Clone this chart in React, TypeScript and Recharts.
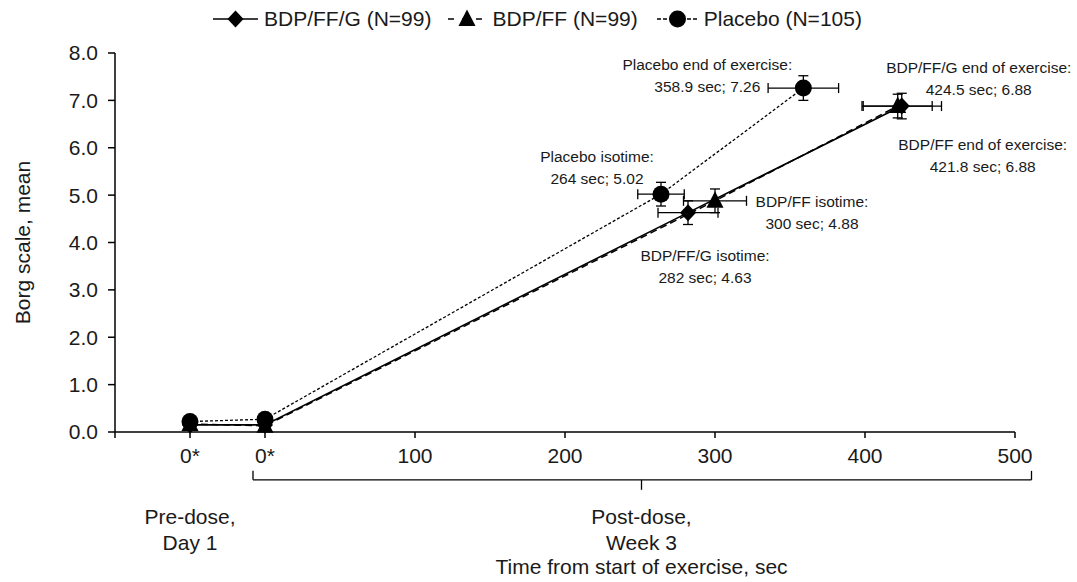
import React from 'react';
import { ComposedChart, Line, Scatter, XAxis, YAxis, ErrorBar, ReferenceDot, ReferenceLine, Label } from 'recharts';

// time from start of exercise (sec); -50 stands for the pre-dose "0*" slot
const timeFfg = [-50, 0, 282, 424.5];
const borgFfg = [0.15, 0.15, 4.63, 6.88];
const timeErrFfg = [0, 0, 20, 26.5];
const borgErrFfg = [0, 0, 0.25, 0.27];

const timeFf = [-50, 0, 300, 421.8];
const borgFf = [0.17, 0.13, 4.88, 6.88];
const timeErrFf = [0, 0, 21, 23];
const borgErrFf = [0, 0, 0.25, 0.25];

const timePbo = [-50, 0, 264, 358.9];
const borgPbo = [0.22, 0.27, 5.02, 7.26];
const timeErrPbo = [0, 0, 15.5, 23.5];
const borgErrPbo = [0, 0, 0.25, 0.26];

const seriesNames = ['BDP/FF/G (N=99)', 'BDP/FF (N=99)', 'Placebo (N=105)'];
const xTicks = [-100, -50, 0, 100, 200, 300, 400, 500];
const yTicks = [0, 1, 2, 3, 4, 5, 6, 7, 8];

const noteTitles = [
  'Placebo end of exercise:',
  'BDP/FF/G end of exercise:',
  'BDP/FF end of exercise:',
  'Placebo isotime:',
  'BDP/FF isotime:',
  'BDP/FF/G isotime:',
];
const noteTimes = [timePbo[3], timeFfg[3], timeFf[3], timePbo[2], timeFf[2], timeFfg[2]];
const noteBorg = [borgPbo[3], borgFfg[3], borgFf[3], borgPbo[2], borgFf[2], borgFfg[2]];

const groupLabels = [['Pre-dose,', 'Day 1'], ['Post-dose,', 'Week 3']];
const groupCentres = [-50, 251];
const xTitle = 'Time from start of exercise, sec';

// layout / style bits
const FONT = '"Liberation Sans", Arial, sans-serif';
const INK = '#1a1a1a';
const noteOffsets = [[-96, -18], [77, -33], [85, 44], [-64, -32], [97, 6], [17, 48]];
const bracket = { from: -8, to: 511, mid: 251, y: -1.01, hook: -0.82, notch: -1.22 };

const toRows = (t: number[], b: number[], et: number[], eb: number[]) =>
  t.map((x, i) => ({ x, y: b[i], ex: et[i], ey: eb[i] }));

const ffgData = toRows(timeFfg, borgFfg, timeErrFfg, borgErrFfg);
const ffData = toRows(timeFf, borgFf, timeErrFf, borgErrFf);
const pboData = toRows(timePbo, borgPbo, timeErrPbo, borgErrPbo);

const Diamond = ({ cx, cy }: any) => (
  <path d={`M${cx},${cy - 8.5}L${cx + 8},${cy}L${cx},${cy + 8.5}L${cx - 8},${cy}Z`} fill="#000" />
);
const Triangle = ({ cx, cy }: any) => (
  <path d={`M${cx},${cy - 9.5}L${cx + 8.5},${cy + 7}L${cx - 8.5},${cy + 7}Z`} fill="#000" />
);
const Circle = ({ cx, cy }: any) => <circle cx={cx} cy={cy} r={8.5} fill="#000" />;

const shapeOf = (Shape: any) => (p: any) => <Shape cx={p.cx} cy={p.cy} />;

const textBlock = (lines: string[], dx: number, dy: number, size: number, gap: number) => (p: any) => (
  <text x={p.cx + dx} y={p.cy + dy} textAnchor="middle" fontSize={size} fill={INK} fontFamily={FONT}>
    {lines.map((l, i) => (
      <tspan key={i} x={p.cx + dx} dy={i === 0 ? 0 : gap}>{l}</tspan>
    ))}
  </text>
);

const LegendIcon = ({ shape: Shape, dash, w }: any) => (
  <svg width={w} height={22} style={{ display: 'block' }}>
    <line x1={0} y1={11} x2={w} y2={11} stroke="#000" strokeWidth={1.5} strokeDasharray={dash} />
    <Shape cx={w / 2} cy={11} />
  </svg>
);

const legendItems = [
  { shape: Diamond, dash: undefined, w: 45, gapL: 0 },
  { shape: Triangle, dash: '6 8', w: 38, gapL: 17 },
  { shape: Circle, dash: '4 2', w: 41, gapL: 19 },
];

const errBars = [
  <ErrorBar key="ey" dataKey="ey" direction="y" width={5} stroke="#000" strokeWidth={1.3} isAnimationActive={false} />,
  <ErrorBar key="ex" dataKey="ex" direction="x" width={5} stroke="#000" strokeWidth={1.3} isAnimationActive={false} />,
];

export default function App() {
  return (
    <div style={{ position: 'absolute', left: 0, top: 0, width: 1077, height: 582, background: '#fff', fontFamily: FONT }}>
      <div style={{ position: 'absolute', left: 213, top: 8, display: 'flex', alignItems: 'center', fontSize: 21, color: INK, lineHeight: '22px' }}>
        {legendItems.map((it, i) => (
          <div key={i} style={{ display: 'flex', alignItems: 'center', marginLeft: it.gapL }}>
            <LegendIcon shape={it.shape} dash={it.dash} w={it.w} />
            <span style={{ marginLeft: 6 }}>{seriesNames[i]}</span>
          </div>
        ))}
      </div>
      <ComposedChart width={1077} height={582} margin={{ top: 53, right: 62, bottom: 120, left: 0 }}>
        <XAxis
          type="number"
          dataKey="x"
          domain={[-100, 500]}
          ticks={xTicks}
          allowDataOverflow
          height={30}
          tickFormatter={(v: number) => (v === -100 ? '' : v <= 0 ? '0*' : String(v))}
          tick={{ fontSize: 21, fill: INK, fontFamily: FONT }}
          axisLine={{ stroke: '#000', strokeWidth: 1.5 }}
          tickLine={{ stroke: '#000', strokeWidth: 1.5 }}
          tickSize={6}
          tickMargin={10}
        />
        <YAxis
          type="number"
          dataKey="y"
          domain={[0, 8]}
          ticks={yTicks}
          width={115}
          tickFormatter={(v: number) => v.toFixed(1)}
          tick={{ fontSize: 21, fill: INK, fontFamily: FONT }}
          axisLine={{ stroke: '#000', strokeWidth: 1.5 }}
          tickLine={{ stroke: '#000', strokeWidth: 1.5 }}
          tickSize={7}
          tickMargin={10}
        >
          <Label
            content={({ viewBox }: any) => (
              <text
                x={22}
                y={viewBox.y + viewBox.height / 2}
                transform={`rotate(-90, 22, ${viewBox.y + viewBox.height / 2})`}
                textAnchor="middle"
                dominantBaseline="central"
                fontSize={21}
                fill={INK}
                fontFamily={FONT}
              >
                Borg scale, mean
              </text>
            )}
          />
        </YAxis>

        <Line data={ffgData} dataKey="y" stroke="#000" strokeWidth={1.6} dot={false} activeDot={false} isAnimationActive={false} />
        <Line data={ffData} dataKey="y" stroke="#000" strokeWidth={1.5} strokeDasharray="7 4" dot={false} activeDot={false} isAnimationActive={false} />
        <Line data={pboData} dataKey="y" stroke="#000" strokeWidth={1.3} strokeDasharray="3 2" dot={false} activeDot={false} isAnimationActive={false} />

        <Scatter data={pboData} shape={shapeOf(Circle)} isAnimationActive={false}>{errBars}</Scatter>
        <Scatter data={ffgData} shape={shapeOf(Diamond)} isAnimationActive={false}>{errBars}</Scatter>
        <Scatter data={ffData} shape={shapeOf(Triangle)} isAnimationActive={false}>{errBars}</Scatter>

        {noteTitles.map((title, i) => (
          <ReferenceDot
            key={`note-${i}`}
            x={noteTimes[i]}
            y={noteBorg[i]}
            ifOverflow="visible"
            shape={textBlock(
              [title, `${noteTimes[i]} sec; ${noteBorg[i].toFixed(2)}`],
              noteOffsets[i][0],
              noteOffsets[i][1],
              15.5,
              22
            )}
          />
        ))}

        <ReferenceLine segment={[{ x: bracket.from, y: bracket.y }, { x: bracket.to, y: bracket.y }]} ifOverflow="visible" stroke="#000" strokeWidth={1.3} />
        <ReferenceLine segment={[{ x: bracket.from, y: bracket.y }, { x: bracket.from, y: bracket.hook }]} ifOverflow="visible" stroke="#000" strokeWidth={1.3} />
        <ReferenceLine segment={[{ x: bracket.to, y: bracket.y }, { x: bracket.to, y: bracket.hook }]} ifOverflow="visible" stroke="#000" strokeWidth={1.3} />
        <ReferenceLine segment={[{ x: bracket.mid, y: bracket.y }, { x: bracket.mid, y: bracket.notch }]} ifOverflow="visible" stroke="#000" strokeWidth={1.3} />

        {groupLabels.map((lines, i) => (
          <ReferenceDot key={`grp-${i}`} x={groupCentres[i]} y={0} ifOverflow="visible" shape={textBlock(lines, 0, 92, 21, 26)} />
        ))}
        <ReferenceDot x={groupCentres[1]} y={0} ifOverflow="visible" shape={textBlock([xTitle], 0, 142, 21, 0)} />
      </ComposedChart>
    </div>
  );
}
